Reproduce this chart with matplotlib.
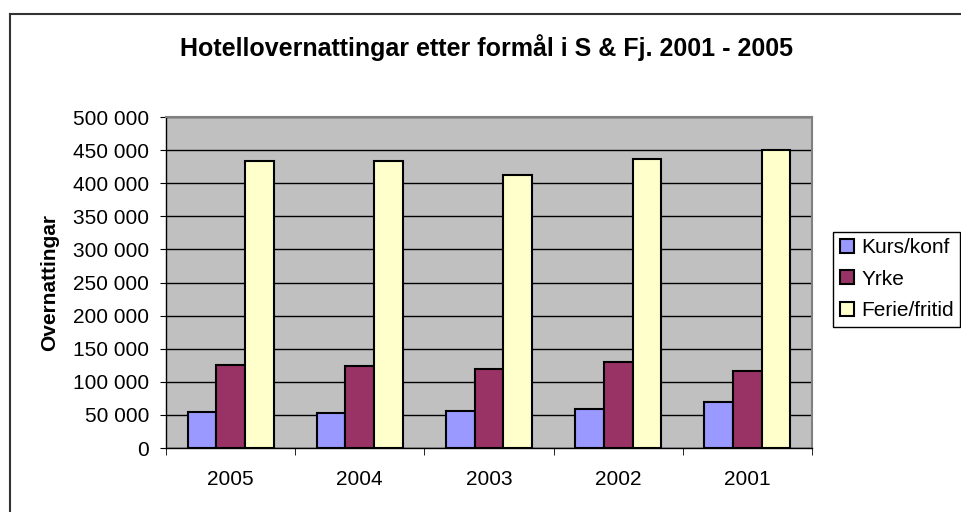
import numpy as np
import matplotlib
matplotlib.use('Agg')
import matplotlib.pyplot as plt
from matplotlib.ticker import FuncFormatter, FixedLocator
from matplotlib.lines import Line2D

plt.rcParams['font.family'] = ['Liberation Sans', 'DejaVu Sans']

years = ['2005', '2004', '2003', '2002', '2001']
kurs = [55000, 53500, 56500, 59500, 70000]
yrke = [126000, 124000, 119000, 130000, 116000]
ferie = [434000, 433000, 412000, 437000, 450000]
series_names = ['Kurs/konf', 'Yrke', 'Ferie/fritid']
colors = ['#9999FF', '#993366', '#FFFFCC']

W, H = 962, 512
fig = plt.figure(figsize=(W / 100, H / 100), dpi=100)
ax = fig.add_axes([166 / W, 1 - 448 / H, (812 - 166) / W, (448 - 117) / H])
ax.set_facecolor('#C0C0C0')

x = np.arange(len(years))
bw = 0.222
for i, (vals, col, name) in enumerate(zip([kurs, yrke, ferie], colors, series_names)):
    ax.bar(x + (i - 1) * bw, vals, width=bw, color=col, edgecolor='black',
           linewidth=1.5, label=name, zorder=3)

ax.set_xlim(-0.5, len(years) - 0.5)
ax.set_ylim(0, 500000)
ax.set_yticks(np.arange(0, 500001, 50000))
ax.yaxis.set_major_formatter(FuncFormatter(lambda v, p: f'{int(v):,}'.replace(',', ' ')))
ax.grid(axis='y', color='black', linewidth=1, zorder=1)
ax.set_axisbelow(True)

ax.set_xticks(x)
ax.set_xticklabels(years)
ax.xaxis.set_minor_locator(FixedLocator(np.arange(-0.5, len(years), 1.0)))
ax.tick_params(axis='x', which='major', length=0, pad=16, labelsize=15)
ax.tick_params(axis='x', which='minor', length=5, color='black')
ax.tick_params(axis='y', length=4, color='black', labelsize=15, pad=8)

for side in ['top', 'right']:
    ax.spines[side].set_color('#808080')
    ax.spines[side].set_linewidth(1.5)
for side in ['left', 'bottom']:
    ax.spines[side].set_color('black')
    ax.spines[side].set_linewidth(1)

ax.set_ylabel('Overnattingar', fontsize=15, fontweight='bold', labelpad=10)

fig.text(487 / W, 1 - 48 / H, 'Hotellovernattingar etter formål i S & Fj. 2001 - 2005',
         ha='center', va='center', fontsize=18, fontweight='bold')

handles = [Line2D([0], [0], marker='s', linestyle='none', markersize=10,
                  markerfacecolor=c, markeredgecolor='black', markeredgewidth=1.5)
           for c in colors]
leg = fig.legend(handles, series_names, loc='upper left',
                 bbox_to_anchor=(833 / W, 1 - 232 / H), fontsize=15,
                 fancybox=False, edgecolor='black', framealpha=1,
                 handlelength=0.75, handletextpad=0.3, borderpad=0.3,
                 labelspacing=0.6, borderaxespad=0)
leg.get_frame().set_linewidth(1)

# outer chart border
fig.add_artist(Line2D([10 / W, 1.0], [1 - 14 / H, 1 - 14 / H], color='#333333',
                      linewidth=1.5, transform=fig.transFigure))
fig.add_artist(Line2D([10 / W, 10 / W], [0.0, 1 - 14 / H], color='#333333',
                      linewidth=1.5, transform=fig.transFigure))

fig.savefig('out.png', dpi=100)
